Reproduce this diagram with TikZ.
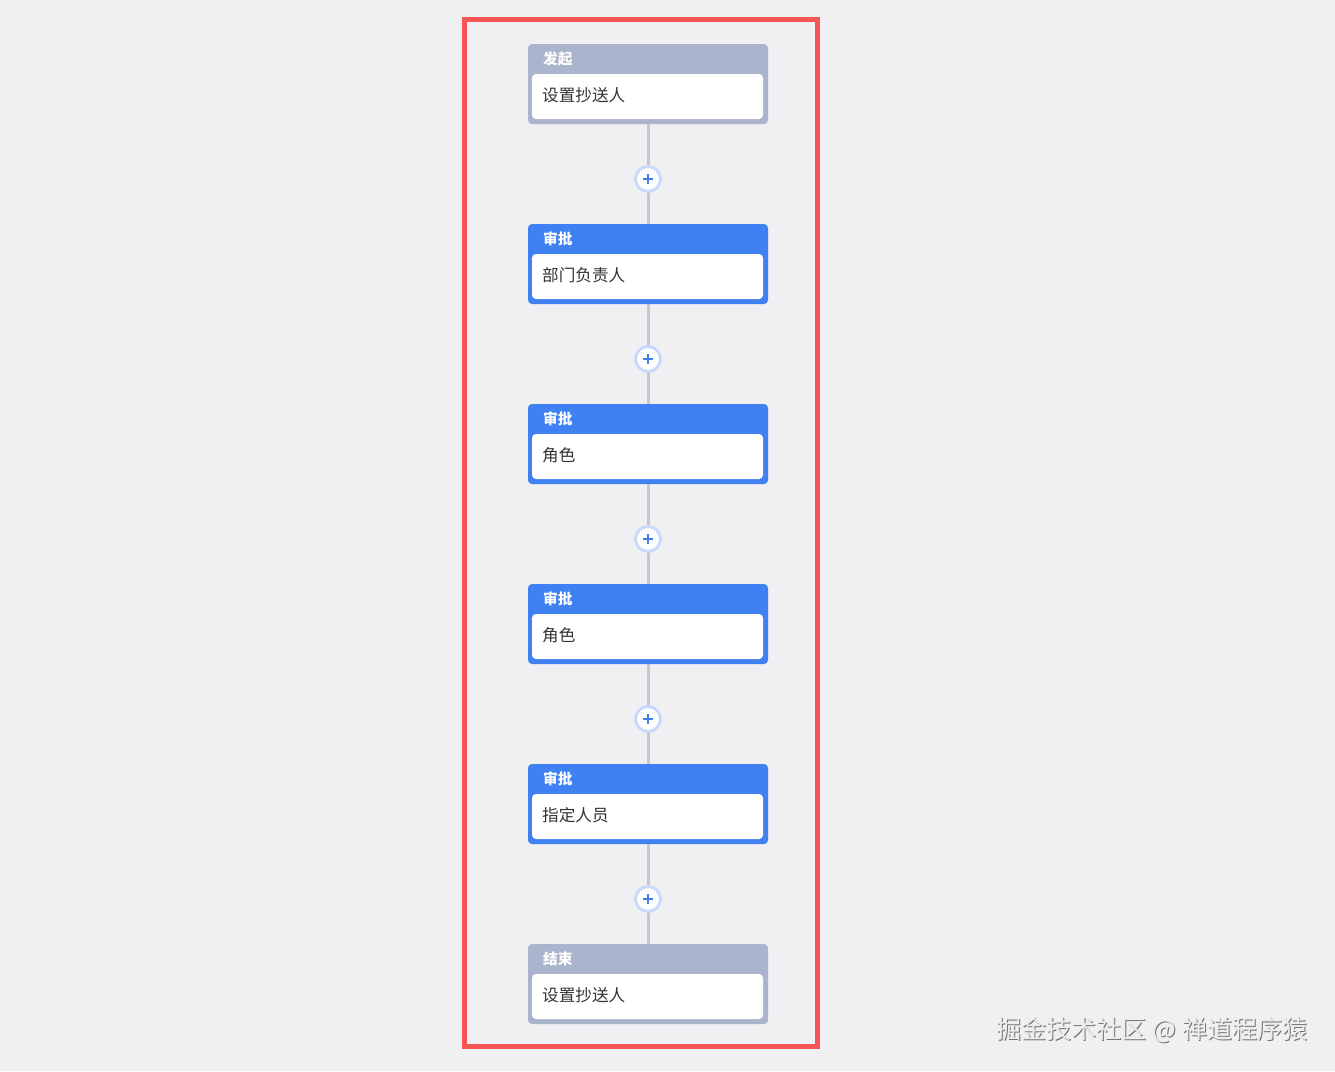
\documentclass[tikz,border=0pt]{standalone}
\usepackage{fontspec}
\newfontfamily\cjk{Noto Sans CJK SC}
\definecolor{bg}{HTML}{F0F0F3}
\definecolor{redframe}{HTML}{F45656}
\definecolor{headgray}{HTML}{AAB4CC}
\definecolor{headblue}{HTML}{3F80F3}
\definecolor{bodytext}{HTML}{333333}
\definecolor{linkgray}{HTML}{C6C6CC}
\definecolor{ringblue}{HTML}{C9D9FB}
\definecolor{plusblue}{HTML}{3F7EF0}
\begin{document}
\begin{tikzpicture}[x=1pt,y=-1pt,
 outerbox/.style={draw=none, rounded corners=4pt, minimum width=240pt, minimum height=80pt, inner sep=0pt},
 innerbox/.style={fill=white, rounded corners=4pt, minimum width=231pt, minimum height=45pt, inner sep=0pt},
 title/.style={font=\cjk\bfseries\fontsize{14.7}{16}\selectfont, text=white, anchor=west, inner sep=0pt},
 body/.style={font=\cjk\fontsize{16.6}{19}\selectfont, text=bodytext, anchor=west, inner sep=0pt},
 link/.style={draw=linkgray, line width=3pt},
 plus/.style={circle, fill=white, draw=ringblue, line width=3pt, minimum size=25pt, inner sep=0pt},
 plusarm/.style={draw=plusblue, line width=1.6pt},
 wmark/.style={font=\cjk\fontsize{25.1}{28}\selectfont, inner sep=0pt}
]
\fill[bg] (0,0) rectangle (1335,1071);
\useasboundingbox (0,0) rectangle (1335,1071);
\draw[redframe, line width=5pt] (464.5,19.5) rectangle (817.5,1046.5);
\foreach \i/\t/\b/\c in {1/发起/设置抄送人/headgray, 2/审批/部门负责人/headblue, 3/审批/角色/headblue, 4/审批/角色/headblue, 5/审批/指定人员/headblue, 6/结束/设置抄送人/headgray}{
  \pgfmathsetmacro\yc{84+180*(\i-1)}
  \node[outerbox, fill=\c] (n\i) at (648,\yc) {};
  \node[innerbox] (b\i) at (647.5,\yc+12.5) {};
  \node[title] (t\i) at (543,\yc-25) {\t};
  \node[body] (s\i) at (542,\yc+11) {\b};
}
\foreach \i in {1,...,5}{
  \pgfmathtruncatemacro\j{\i+1}
  \pgfmathsetmacro\yp{179+180*(\i-1)}
  \draw[link] (n\i.south) -- (n\j.north);
  \node[plus] (p\i) at (648,\yp) {};
  \draw[plusarm] ([xshift=-5pt]p\i.center) -- ([xshift=5pt]p\i.center);
  \draw[plusarm] ([yshift=-5pt]p\i.center) -- ([yshift=5pt]p\i.center);
}
\node[wmark, text=black!55] (wms) at (1153,1031) {掘金技术社区 @ 禅道程序猿};
\node[wmark, text=white!93!black] (wm) at (1152,1030) {掘金技术社区 @ 禅道程序猿};
\end{tikzpicture}
\end{document}
